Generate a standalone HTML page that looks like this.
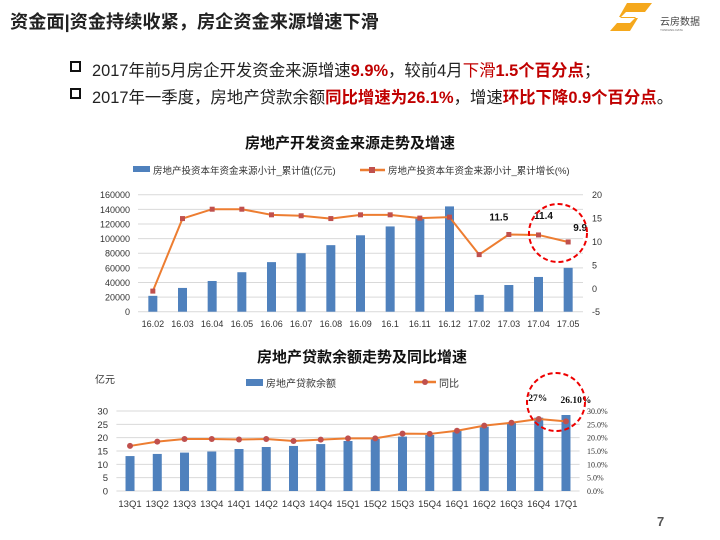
<!DOCTYPE html>
<html><head><meta charset="utf-8"><style>
body{margin:0;background:#fff;}
svg{display:block;font-family:"Liberation Sans","Noto Sans CJK SC",sans-serif;}
</style></head><body>
<svg id="s" width="720" height="540" viewBox="0 0 720 540" xmlns="http://www.w3.org/2000/svg">
<text x="10" y="28" font-size="18.2" font-weight="bold" fill="#222">资金面|资金持续收紧，房企资金来源增速下滑</text>
<g>
<polygon points="627,3 652,3 645,12 626,12 620,18 638,18 630,31 610,31 617,23 630,23 636,17 619,17" fill="#f5a81c"/>
<text x="660" y="25" font-size="10" fill="#444">云房数据</text>
<text x="660" y="31" font-size="3" fill="#666">YUNFANG DATA</text>
</g>
<g font-size="16.4">
<rect x="71" y="62" width="9" height="9" fill="none" stroke="#111" stroke-width="2"/>
<text x="92" y="76" fill="#222">2017年前5月房企开发资金来源增速<tspan fill="#c00000" font-weight="bold">9.9%</tspan>，较前4月<tspan fill="#c00000">下滑</tspan><tspan fill="#c00000" font-weight="bold">1.5个百分点</tspan>；</text>
<rect x="71" y="89" width="9" height="9" fill="none" stroke="#111" stroke-width="2"/>
<text x="92" y="103" fill="#222">2017年一季度，房地产贷款余额<tspan fill="#c00000" font-weight="bold">同比增速为26.1%</tspan>，增速<tspan fill="#c00000" font-weight="bold">环比下降0.9个百分点</tspan>。</text>
</g>
<text x="350" y="148" font-size="15" font-weight="bold" text-anchor="middle" fill="#111">房地产开发资金来源走势及增速</text>
<g>
<rect x="133" y="166" width="17" height="6" fill="#4f81bd"/>
<text x="153" y="174" font-size="9.5" fill="#333">房地产投资本年资金来源小计_累计值(亿元)</text>
<line x1="360" y1="170" x2="385" y2="170" stroke="#ed7d31" stroke-width="2.5"/>
<rect x="369" y="167" width="6" height="6" fill="#c0504d"/>
<text x="388" y="174" font-size="9.5" fill="#333">房地产投资本年资金来源小计_累计增长(%)</text>
</g>
<text x="362" y="362" font-size="15" font-weight="bold" text-anchor="middle" fill="#111">房地产贷款余额走势及同比增速</text>
<text x="95" y="383" font-size="10" fill="#333">亿元</text>
<g>
<rect x="246" y="379" width="17" height="7" fill="#4f81bd"/>
<text x="266" y="387" font-size="10" fill="#333">房地产贷款余额</text>
<line x1="414" y1="382" x2="436" y2="382" stroke="#ed7d31" stroke-width="2.5"/>
<circle cx="425" cy="382" r="3" fill="#c0504d"/>
<text x="439" y="387" font-size="10" fill="#333">同比</text>
</g>
<text x="657" y="526" font-size="13" font-weight="bold" fill="#555">7</text>
<g id="c1"></g><g id="c2"></g>
</svg>
<script>
const c1Cats=["16.02","16.03","16.04","16.05","16.06","16.07","16.08","16.09","16.1","16.11","16.12","17.02","17.03","17.04","17.05"];
const c1Bars=[21700,32500,42000,54000,67800,80000,91000,104500,116600,128000,144000,23000,36500,47500,60000];
const c1Line=[-0.6,14.9,16.9,16.9,15.7,15.5,14.9,15.7,15.7,15.0,15.2,7.2,11.5,11.4,9.9];
const c1LeftTicks=[0,20000,40000,60000,80000,100000,120000,140000,160000];
const c1RightTicks=[-5,0,5,10,15,20];
const c2Cats=["13Q1","13Q2","13Q3","13Q4","14Q1","14Q2","14Q3","14Q4","15Q1","15Q2","15Q3","15Q4","16Q1","16Q2","16Q3","16Q4","17Q1"];
const c2Bars=[13.1,13.9,14.4,14.8,15.75,16.5,16.9,17.6,18.75,19.5,20.4,21,22.5,24.1,25.6,27.5,28.5];
const c2Line=[16.9,18.5,19.5,19.5,19.3,19.5,18.75,19.25,19.75,19.75,21.5,21.4,22.6,24.5,25.6,27,26.1];
const c2LeftTicks=[0,5,10,15,20,25,30];
const c2RightTicks=[0,5,10,15,20,25,30];
const NS="http://www.w3.org/2000/svg";
function mk(p,t,a){const e=document.createElementNS(NS,t);for(const k in a)e.setAttribute(k,a[k]);p.appendChild(e);return e;}
// chart 1
(function(){
const g=document.getElementById('c1');
const L=138,R=583,y0=311.7,yT=194.7;
const yL=v=>y0-(v/160000)*(y0-yT);
const yR=v=>y0-((v+5)/25)*(y0-yT);
const step=(R-L)/c1Cats.length;
const x=i=>L+step*(i+0.5);
c1LeftTicks.forEach(t=>{
 if(t>0){const gl=mk(g,'line',{x1:L,x2:R,y1:yL(t),y2:yL(t),stroke:'#d9d9d9','stroke-width':1});
 
 }
 const tx=mk(g,'text',{x:130,y:yL(t)+3.5,'font-size':9,'text-anchor':'end',fill:'#333'});tx.textContent=t;
 
 
});
const ax=mk(g,'line',{x1:L,x2:R,y1:y0,y2:y0,stroke:'#d9d9d9'});


c1RightTicks.forEach(t=>{const tx=mk(g,'text',{x:592,y:yR(t)+3.5,'font-size':9,fill:'#333'});tx.textContent=t;
 
 });
c1Bars.forEach((v,i)=>{const b=mk(g,'rect',{x:x(i)-4.5,y:yL(v),width:9,height:y0-yL(v),fill:'#4f81bd'});
 
 });
c1Cats.forEach((c,i)=>{const tx=mk(g,'text',{x:x(i),y:327,'font-size':9,'text-anchor':'middle',fill:'#333'});tx.textContent=c;
 
 });
const pl=mk(g,'polyline',{points:c1Line.map((v,i)=>x(i)+','+yR(v)).join(' '),fill:'none',stroke:'#ed7d31','stroke-width':2});


c1Line.forEach((v,i)=>{const m=mk(g,'rect',{x:x(i)-2.5,y:yR(v)-2.5,width:5,height:5,fill:'#c0504d'});
 
 });
[[12,-10,-14],[13,5,-16],[14,12,-11]].forEach(a=>{const i=a[0];
 const tx=mk(g,'text',{x:x(i)+a[1],y:yR(c1Line[i])+a[2],'font-size':10,'font-weight':'bold','text-anchor':'middle',fill:'#111'});tx.textContent=c1Line[i];
 
 });
const ci=mk(g,'circle',{cx:558,cy:233,r:29,fill:'none',stroke:'#e00','stroke-width':2,'stroke-dasharray':'5,3'});


})();
// chart 2
(function(){
const g=document.getElementById('c2');
const L=116.4,R=579.6,y0=491,yT=411;
const yL=v=>y0-(v/30)*(y0-yT);
const step=(R-L)/c2Cats.length;
const x=i=>L+step*(i+0.5);
c2LeftTicks.forEach(t=>{
 const gl=mk(g,'line',{x1:L,x2:R,y1:yL(t),y2:yL(t),stroke:'#d9d9d9','stroke-width':1});
 
 
 const tx=mk(g,'text',{x:108,y:yL(t)+3.5,'font-size':9.5,'text-anchor':'end',fill:'#333'});tx.textContent=t;
 
 });
c2RightTicks.forEach(t=>{const tx=mk(g,'text',{x:587,y:yL(t)+3,'font-size':8,fill:'#333','font-family':'Liberation Serif,serif'});tx.textContent=t.toFixed(1)+'%';
 
 });
c2Bars.forEach((v,i)=>{const b=mk(g,'rect',{x:x(i)-4.5,y:yL(v),width:9,height:y0-yL(v),fill:'#4f81bd'});
 
 });
c2Cats.forEach((c,i)=>{const tx=mk(g,'text',{x:x(i),y:507,'font-size':9.5,'text-anchor':'middle',fill:'#333'});tx.textContent=c;
 
 });
const pl=mk(g,'polyline',{points:c2Line.map((v,i)=>x(i)+','+yL(v)).join(' '),fill:'none',stroke:'#ed7d31','stroke-width':2});


c2Line.forEach((v,i)=>{const m=mk(g,'circle',{cx:x(i),cy:yL(v),r:3,fill:'#c0504d'});
 
 });
const l1=mk(g,'text',{x:x(15)-1,y:401,'font-size':9.5,'font-weight':'bold','text-anchor':'middle',fill:'#111','font-family':'Liberation Serif,serif'});l1.textContent=c2Line[15]+'%';


const l2=mk(g,'text',{x:x(16)+10,y:403,'font-size':9.5,'font-weight':'bold','text-anchor':'middle',fill:'#111','font-family':'Liberation Serif,serif'});l2.textContent=c2Line[16].toFixed(2)+'%';


const ci=mk(g,'circle',{cx:556,cy:402,r:29,fill:'none',stroke:'#e00','stroke-width':2,'stroke-dasharray':'5,3'});


})();
</script>
</body></html>
